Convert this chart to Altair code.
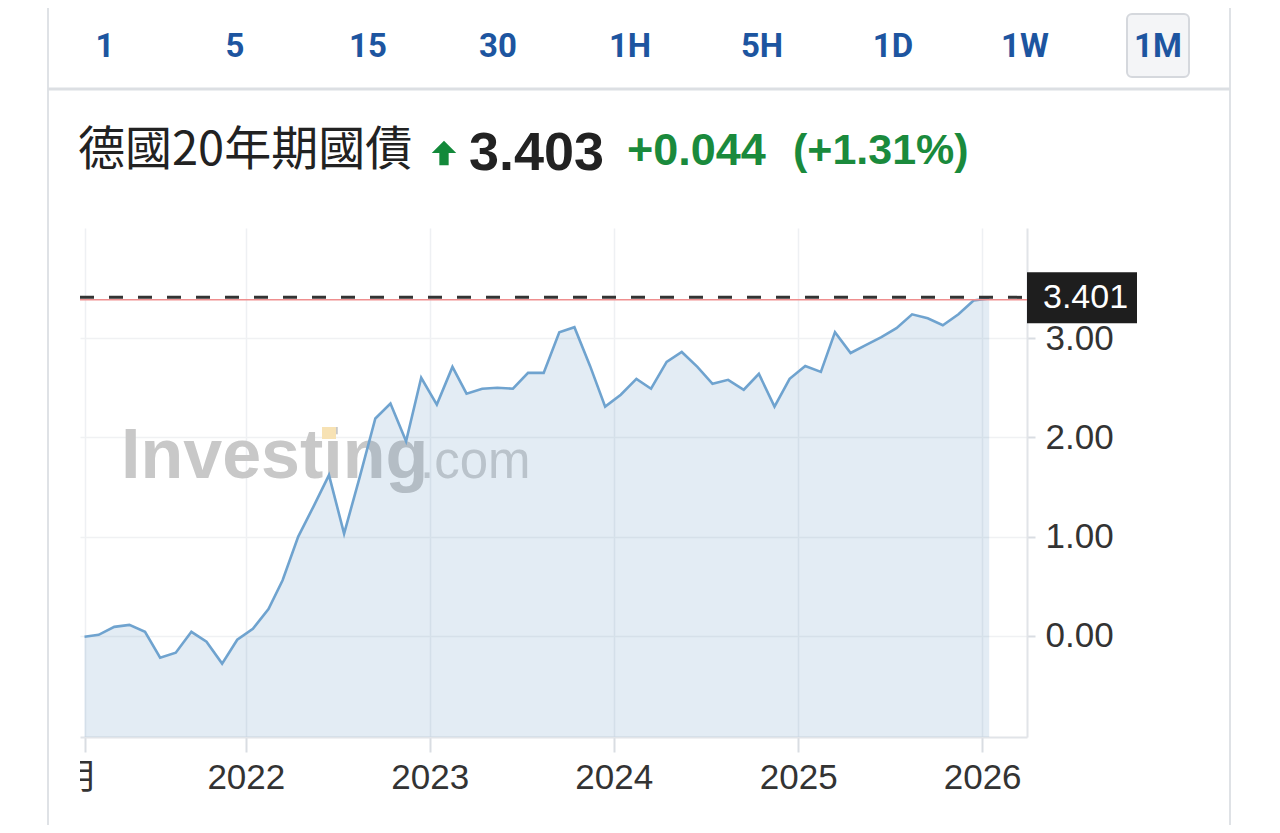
import altair as alt
import pandas as pd

# ---------------- data ----------------
months = [f"{y}-{m:02d}-15" for y in range(2021, 2027) for m in range(1, 13)]
months = [d for d in months if "2021-02-15" <= d <= "2026-01-15"]
yields = [-0.01, 0.01, 0.09, 0.11, 0.04, -0.22, -0.17, 0.04, -0.06, -0.28,
          -0.04, 0.07, 0.27, 0.56, 1.00, 1.30, 1.62, 1.03, 1.60, 2.19,
          2.34, 1.96, 2.60, 2.33, 2.71, 2.44, 2.49, 2.50, 2.49, 2.65,
          2.65, 3.06, 3.11, 2.72, 2.31, 2.43, 2.59, 2.49, 2.76, 2.86,
          2.71, 2.54, 2.58, 2.48, 2.64, 2.31, 2.59, 2.72, 2.66, 3.06,
          2.85, 2.93, 3.01, 3.10, 3.24, 3.20, 3.13, 3.24, 3.38, 3.401]
intervals = ["1", "5", "15", "30", "1H", "5H", "1D", "1W", "1M"]
title_text = "德國20年期國債"
price_text = "3.403"
change_text = "+0.044"
pct_text = "(+1.31%)"
last_value = 3.401
y_ticks = [0, 1, 2, 3]
year_ticks = [2022, 2023, 2024, 2025, 2026]

df = pd.DataFrame({"date": months, "value": yields})
one = pd.DataFrame({"a": [0]})

# ---------------- geometry ----------------
W, H = 947, 509
OX, OY = 80, 228
YMIN, YMAX = -1.02, 4.11


def px(x):
    return x - OX


def py(y):
    return y - OY


NUM_FONT = "Liberation Sans"
CJK_FONT = "Noto Sans CJK TC"

xscale = alt.Scale(type="utc",
                   domain=[alt.DateTime(year=2021, month=2, date=6, utc=True),
                           alt.DateTime(year=2026, month=3, date=31, utc=True)])
yscale = alt.Scale(domain=[YMIN, YMAX], nice=False, zero=False)

x_vals = [alt.DateTime(year=2021, month=2, date=15, utc=True)] + [
    alt.DateTime(year=y, month=1, date=1, utc=True) for y in year_ticks]

xaxis = alt.Axis(values=x_vals,
                 labelExpr="utcyear(datum.value) < 2022 ? '' : utcFormat(datum.value, '%Y')",
                 grid=True, gridColor="#eef0f3", gridWidth=1.5,
                 domainColor="#e1e4e8", domainWidth=2,
                 tickColor="#d9dde2", tickSize=15, tickWidth=2,
                 labelFont=NUM_FONT, labelFontSize=35, labelColor="#333333",
                 labelPadding=8, title=None)
yaxis = alt.Axis(orient="right", values=y_ticks, format=".2f",
                 grid=True, gridColor="#f0f1f3", gridWidth=1.5,
                 domainColor="#e1e4e8", domainWidth=2,
                 tickColor="#d9dde2", tickSize=8, tickWidth=2,
                 labelFont=NUM_FONT, labelFontSize=35, labelColor="#333333",
                 labelPadding=10, title=None)

X = alt.X("date:T", scale=xscale, axis=xaxis)
Y = alt.Y("value:Q", scale=yscale, axis=yaxis)

layers = []

# watermark
layers.append(alt.Chart(one).mark_text(text="Investing", font=NUM_FONT, fontWeight="bold",
                                       fontSize=70, color="#c8c8c8", align="left",
                                       baseline="alphabetic")
              .encode(x=alt.value(px(121)), y=alt.value(py(478))))
layers.append(alt.Chart(one).mark_rect(color="#f7e2b4")
              .encode(x=alt.value(px(322)), x2=alt.value(px(336)),
                      y=alt.value(py(427)), y2=alt.value(py(439))))
layers.append(alt.Chart(one).mark_text(text=".com", font=NUM_FONT, fontSize=51,
                                       color="#cfcfcf", align="left", baseline="alphabetic")
              .encode(x=alt.value(px(420)), y=alt.value(py(478))))

# area + line
layers.append(alt.Chart(df).mark_area(color="#4480b6", opacity=0.15)
              .encode(x=X, y=Y, y2=alt.datum(YMIN)))
layers.append(alt.Chart(df).mark_line(color="#6fa3cf", strokeWidth=2.6)
              .encode(x=X, y=Y))

# reference lines at last value
layers.append(alt.Chart(one).mark_rule(color="#ef8f8f", strokeWidth=1.5, yOffset=1.5)
              .encode(y=alt.datum(last_value)))
layers.append(alt.Chart(one).mark_rule(color="#333333", strokeWidth=3, strokeDash=[14, 15],
                                       yOffset=-1)
              .encode(x=alt.value(0), x2=alt.value(W + 2), y=alt.datum(last_value)))

# last value label box
layers.append(alt.Chart(one).mark_rect(color="#1e1e1e")
              .encode(x=alt.value(W), x2=alt.value(W + 110),
                      y=alt.datum(last_value + 0.262), y2=alt.datum(last_value - 0.252)))
layers.append(alt.Chart(one).mark_text(text=f"{last_value:.3f}", font=NUM_FONT, fontSize=34,
                                       color="white", align="left", baseline="middle")
              .encode(x=alt.value(W + 16), y=alt.datum(last_value)))

# ---------------- header ----------------
# card borders & separator
for xx in (48, 1230):
    layers.append(alt.Chart(one).mark_rule(color="#dfe2e6", strokeWidth=2)
                  .encode(x=alt.value(px(xx)), y=alt.value(py(0)), y2=alt.value(py(833))))
layers.append(alt.Chart(one).mark_rule(color="#dcdfe3", strokeWidth=3)
              .encode(x=alt.value(px(48)), x2=alt.value(px(1230)), y=alt.value(py(89)),
                      y2=alt.value(py(89))))

# selected interval box
layers.append(alt.Chart(one).mark_rect(fill="#f4f5f7", stroke="#d5d8dd", strokeWidth=2,
                                       cornerRadius=5)
              .encode(x=alt.value(px(1127)), x2=alt.value(px(1189)),
                      y=alt.value(py(14)), y2=alt.value(py(77))))

btn_x = [105, 235, 368, 498, 630, 762, 893, 1025, 1158]
for lab, bx in zip(intervals, btn_x):
    layers.append(alt.Chart(one).mark_text(text=lab, font="Roboto",
                                           fontWeight="bold", fontSize=33, color="#1d55a0",
                                           align="center", baseline="middle")
                  .encode(x=alt.value(px(bx)), y=alt.value(py(47))))

# title row
layers.append(alt.Chart(one).mark_text(text=title_text, font=CJK_FONT, fontSize=47,
                                       color="#222222", align="left", baseline="middle")
              .encode(x=alt.value(px(78)), y=alt.value(py(151))))
arrow = "M0,-1L1,0L0.38,0L0.38,1L-0.38,1L-0.38,0L-1,0Z"
layers.append(alt.Chart(one).mark_point(shape=arrow, filled=True, color="#13893a", size=600,
                                        opacity=1)
              .encode(x=alt.value(px(444)), y=alt.value(py(153))))
layers.append(alt.Chart(one).mark_text(text=price_text, font=NUM_FONT, fontWeight="bold",
                                       fontSize=54, color="#222222", align="left",
                                       baseline="middle")
              .encode(x=alt.value(px(469)), y=alt.value(py(154))))
layers.append(alt.Chart(one).mark_text(text=change_text, font=NUM_FONT, fontWeight="bold",
                                       fontSize=45, color="#1a8a3c", align="left",
                                       baseline="middle")
              .encode(x=alt.value(px(627)), y=alt.value(py(151))))
layers.append(alt.Chart(one).mark_text(text=pct_text, font=NUM_FONT, fontWeight="bold",
                                       fontSize=43, color="#1a8a3c", align="left",
                                       baseline="middle")
              .encode(x=alt.value(px(793)), y=alt.value(py(151))))

# clipped first x label
layers.append(alt.Chart(one).mark_text(text="月", font=CJK_FONT, fontSize=35,
                                       color="#333333", align="right", baseline="middle")
              .encode(x=alt.value(px(98)), y=alt.value(py(778))))
layers.append(alt.Chart(one).mark_rect(color="white")
              .encode(x=alt.value(px(50)), x2=alt.value(px(80)),
                      y=alt.value(py(755)), y2=alt.value(py(805))))

chart = alt.layer(*layers).properties(
    width=W, height=H,
    padding={"left": OX - 8, "top": OY - 8, "right": 1264 - (OX - 8) - W,
             "bottom": 817 - (OY - 8) - H},
    autosize=alt.AutoSizeParams(type="none"),
    background="white",
).configure_view(stroke=None)

chart.save("out.html", embed_options={"renderer": "svg", "actions": False})
